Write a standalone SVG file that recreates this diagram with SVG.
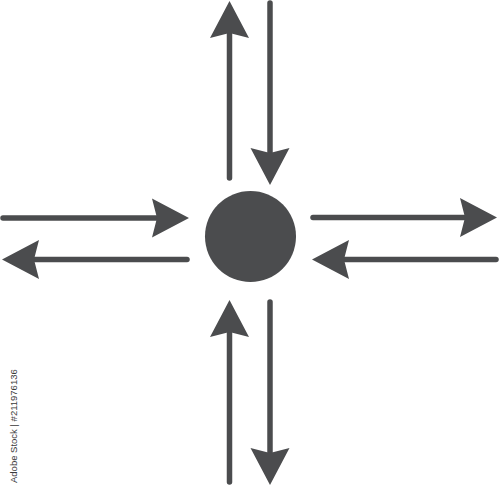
<svg xmlns="http://www.w3.org/2000/svg" width="500" height="486" viewBox="0 0 500 486">
  <style>
    .arrow { stroke: #4b4c4e; stroke-width: 5.5; stroke-linecap: round; fill: none; }
    .head { fill: #4b4c4e; }
    .node { fill: #4b4c4e; }
    .credit { font-family: "Liberation Sans", Arial, sans-serif; font-size: 9.5px; fill: #3a3a3a; }
  </style>
  <defs>
    <marker id="ah" markerUnits="userSpaceOnUse" viewBox="-10 -21 44 42" markerWidth="44" markerHeight="42" refX="0" refY="0" orient="auto" overflow="visible">
      <path class="head" d="M32,0 L-5,-19.5 L0,0 L-5,19.5 Z"/>
    </marker>
  </defs>
  <rect width="500" height="486" fill="#ffffff"/>
  <g id="center">
    <circle class="node" cx="250.5" cy="236.5" r="45.5"/>
  </g>
  <g id="connectors">
    <!-- top: up arrow -->
    <line class="arrow" x1="229.5" y1="178" x2="229.5" y2="33" marker-end="url(#ah)"/>
    <!-- top: down arrow -->
    <line class="arrow" x1="270" y1="3" x2="270" y2="153" marker-end="url(#ah)"/>
    <!-- left: right arrow -->
    <line class="arrow" x1="3" y1="218" x2="157" y2="218" marker-end="url(#ah)"/>
    <!-- left: left arrow -->
    <line class="arrow" x1="187" y1="259.5" x2="34" y2="259.5" marker-end="url(#ah)"/>
    <!-- right: right arrow -->
    <line class="arrow" x1="313" y1="217.5" x2="465" y2="217.5" marker-end="url(#ah)"/>
    <!-- right: left arrow -->
    <line class="arrow" x1="496" y1="259.5" x2="344" y2="259.5" marker-end="url(#ah)"/>
    <!-- bottom: up arrow -->
    <line class="arrow" x1="229.5" y1="482" x2="229.5" y2="332" marker-end="url(#ah)"/>
    <!-- bottom: down arrow -->
    <line class="arrow" x1="270" y1="302" x2="270" y2="453" marker-end="url(#ah)"/>
  </g>
  <text class="credit" transform="translate(16.5,483) rotate(-90)">Adobe Stock | #211976136</text>
</svg>
